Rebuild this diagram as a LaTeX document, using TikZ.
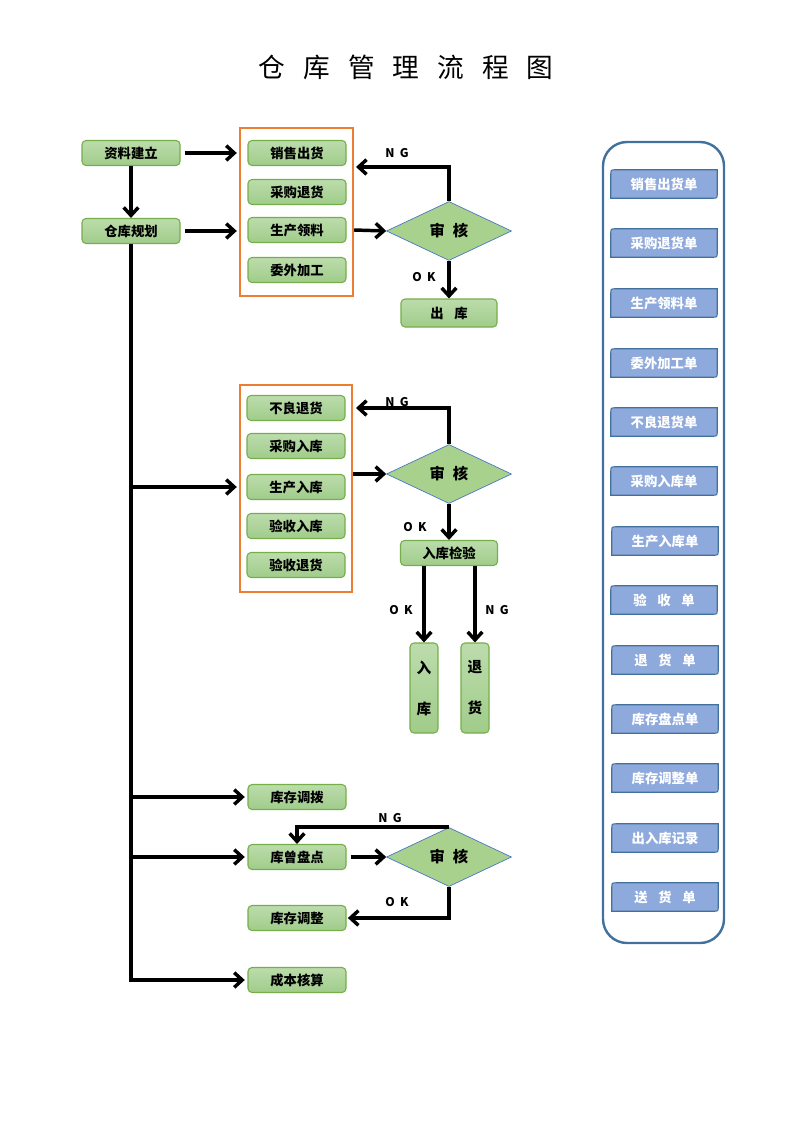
\documentclass[tikz,border=0pt]{standalone}
\usepackage{fontspec}
\setmainfont{Noto Sans CJK SC}
\usetikzlibrary{shapes.geometric,arrows.meta}
\pgfdeclarelayer{background}
\pgfsetlayers{background,main}
\definecolor{gtop}{RGB}{188,220,172}
\definecolor{gbot}{RGB}{160,204,138}
\definecolor{gborder}{RGB}{118,174,73}
\definecolor{dfill}{RGB}{169,209,142}
\definecolor{dborder}{RGB}{68,114,196}
\definecolor{orng}{RGB}{237,125,49}
\definecolor{bfill}{RGB}{142,169,219}
\definecolor{bborder}{RGB}{65,113,156}
\tikzset{
  gbox/.style={draw=gborder, line width=0.8pt, rounded corners=3pt, top color=gtop, bottom color=gbot,
    minimum width=73.5pt, minimum height=18.75pt, inner sep=0pt, font=\fontsize{10}{12}\selectfont\bfseries},
  obox/.style={draw=orng, line width=1.8pt, inner sep=0pt},
  dia/.style={diamond, draw=dborder, line width=0.5pt, fill=dfill, inner sep=0pt, aspect=2.1,
    minimum width=93.75pt, minimum height=44.25pt, font=\fontsize{11.5}{13}\selectfont\bfseries},
  arr/.style={line width=2.6pt, -{Straight Barb[length=6pt,width=11pt]}},
  lab/.style={font=\fontsize{9}{10}\selectfont\bfseries, inner sep=0pt},
  rbox/.style={minimum width=79.5pt, minimum height=21pt, inner sep=0pt, text=white,
    font=\fontsize{10}{12}\selectfont\bfseries},
  panel/.style={draw=bborder, line width=1.8pt, rounded corners=18pt, inner sep=0pt,
    minimum width=90.75pt, minimum height=600.75pt},
}
\begin{document}
\begin{tikzpicture}[x=0.75pt,y=-0.75pt]
\useasboundingbox (0,0) rectangle (794,1123);
% title
\node[font=\fontsize{20}{24}\selectfont] (title) at (406,67)
  {仓\hspace{13.5pt}库\hspace{13.5pt}管\hspace{13.5pt}理\hspace{13.5pt}流\hspace{13.5pt}程\hspace{13.5pt}图};
% left column
\node[gbox] (zl) at (131,153) {资料建立};
\node[gbox] (gh) at (131,231) {仓库规划};
% group 1
\node[obox, minimum width=84.75pt, minimum height=126pt] (o1) at (296.5,212) {};
\node[gbox] (a1) at (297,153) {销售出货};
\node[gbox] (a2) at (297,192) {采购退货};
\node[gbox] (a3) at (297,230) {生产领料};
\node[gbox] (a4) at (297,270) {委外加工};
\node[dia] (d1) at (449,231) {审\hspace{6pt}核};
\node[gbox, minimum width=72pt, minimum height=21pt] (ck) at (449,313) {出\hspace{8pt}库};
\coordinate (ng1) at (356,167);
\draw[arr] ([xshift=3pt]zl.east) -- ([xshift=-1.5pt]o1.west |- zl);
\draw[arr] (zl.south) -- (gh.north);
\draw[arr] ([xshift=3pt]gh.east) -- ([xshift=-1.5pt]o1.west |- gh);
\draw[arr] (o1.east |- a3) -- (d1.west);
\draw[arr] (d1.north) |- (ng1);
\draw[arr] (d1.south) -- (ck.north);
\node[lab] (ngl1) at (397,153) {N\hspace{4pt}G};
\node[lab] (okl1) at (424,277) {O\hspace{4pt}K};
% group 2
\node[obox, minimum width=84pt, minimum height=155.25pt] (o2) at (296,488.5) {};
\node[gbox] (b1) at (296,408) {不良退货};
\node[gbox] (b2) at (296,446) {采购入库};
\node[gbox] (b3) at (296,487) {生产入库};
\node[gbox] (b4) at (296,526) {验收入库};
\node[gbox] (b5) at (296,565) {验收退货};
\node[dia] (d2) at (449,474) {审\hspace{6pt}核};
\node[gbox, minimum width=72.75pt] (jy) at (449,553) {入库检验};
\node[gbox, minimum width=21pt, minimum height=67.5pt, align=center, font=\fontsize{11}{30.75}\selectfont\bfseries] (rk) at (424,688) {入\\库};
\node[gbox, minimum width=21pt, minimum height=67.5pt, align=center, font=\fontsize{11}{30.75}\selectfont\bfseries] (th) at (475,688) {退\\货};
\coordinate (ng2) at (356,408);
\draw[arr] (gh.south |- b3) -- ([xshift=-1.5pt]o2.west |- b3);
\draw[arr] (o2.east |- d2) -- (d2.west);
\draw[arr] (d2.north) |- (ng2);
\draw[arr] (d2.south) -- (jy.north);
\draw[arr] (jy.south -| rk) -- (rk.north);
\draw[arr] (jy.south -| th) -- (th.north);
\node[lab] (ngl2) at (397,402) {N\hspace{4pt}G};
\node[lab] (okl2) at (415,527) {O\hspace{4pt}K};
\node[lab] (okl3) at (401,610) {O\hspace{4pt}K};
\node[lab] (ngl3) at (497,610) {N\hspace{4pt}G};
% bottom
\node[gbox] (db) at (297,797) {库存调拨};
\node[gbox] (pd) at (297,857) {库曾盘点};
\node[gbox] (tz) at (297,918) {库存调整};
\node[gbox] (cb) at (297,980) {成本核算};
\node[dia] (d3) at (449,857) {审\hspace{6pt}核};
\draw[arr] (gh.south) |- ([xshift=-2pt]cb.west);
\draw[arr] (gh.south |- db) -- ([xshift=-2pt]db.west);
\draw[arr] (gh.south |- pd) -- ([xshift=-2pt]pd.west);
\draw[arr] ([xshift=3pt]pd.east) -- (d3.west);
\draw[arr] (d3.north) -| (pd.north);
\draw[arr] (d3.south) |- ([xshift=1pt]tz.east);
\node[lab] (ngl4) at (390,818) {N\hspace{4pt}G};
\node[lab] (okl4) at (397,902) {O\hspace{4pt}K};
% right panel
\node[panel] (pn) at (663.5,542.5) {};
\node[rbox] (r1) at (664,184) {销售出货单};
\node[rbox] (r2) at (664,243) {采购退货单};
\node[rbox] (r3) at (664,303) {生产领料单};
\node[rbox] (r4) at (664,363) {委外加工单};
\node[rbox] (r5) at (664,422) {不良退货单};
\node[rbox] (r6) at (664,481) {采购入库单};
\node[rbox] (r7) at (665,541) {生产入库单};
\node[rbox] (r8) at (664,600) {验\hspace{8pt}收\hspace{8pt}单};
\node[rbox] (r9) at (665,660) {退\hspace{8pt}货\hspace{8pt}单};
\node[rbox] (r10) at (665,719) {库存盘点单};
\node[rbox] (r11) at (665,778) {库存调整单};
\node[rbox] (r12) at (665,838) {出入库记录};
\node[rbox] (r13) at (665,897) {送\hspace{8pt}货\hspace{8pt}单};
\begin{pgfonlayer}{background}
\fill[white] (0,0) rectangle (794,1123);
\foreach \i in {1,...,13}{
  \draw[fill=bfill, draw=bborder, line width=0.8pt]
    (r\i.south west) -- ([yshift=-4pt]r\i.north west) .. controls (r\i.north west) .. ([xshift=4pt]r\i.north west)
    -- (r\i.north east) -- ([yshift=4pt]r\i.south east) .. controls (r\i.south east) .. ([xshift=-4pt]r\i.south east) -- cycle;
}
\end{pgfonlayer}
\end{tikzpicture}
\end{document}
